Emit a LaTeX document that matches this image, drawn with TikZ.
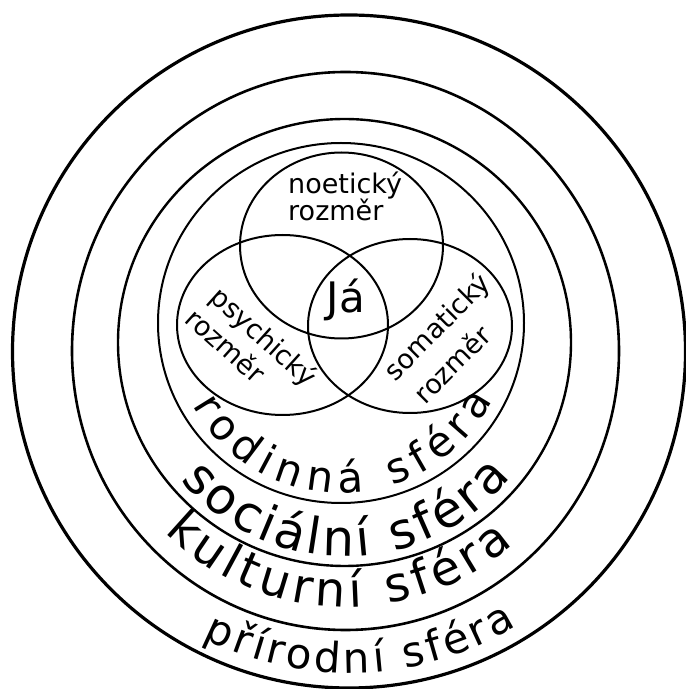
\documentclass[tikz,border=0pt]{standalone}
\usepackage{fontspec}
\setmainfont{DejaVu Sans}
\usetikzlibrary{decorations.text}
\begin{document}
\begin{tikzpicture}[x=1pt,y=1pt,
  venn/.style={draw=black, line width=2pt},
  lbl/.style={font=\fontsize{27}{28}\selectfont, inner sep=0pt},
  arctext/.style 2 args={decorate, decoration={text along path, text align={fit to path}, text={|\fontsize{#1}{#1}\selectfont|#2}}}
]
\useasboundingbox (0,0) rectangle (686,689);
% spheres
\draw[line width=3.2pt] (349,337.5) circle[radius=336.5];
\draw[line width=2.6pt] (345.5,338) ellipse[x radius=273.5, y radius=279];
\draw[line width=2.4pt] (344.5,346.5) ellipse[x radius=226.5, y radius=223.5];
\draw[line width=2pt] (341,366) ellipse[x radius=183, y radius=180];
% venn
\draw[venn] (341.5,443.5) ellipse[x radius=101.5, y radius=93];
\draw[venn] (282.5,364) ellipse[x radius=105.5, y radius=90];
\draw[venn] (410,363) ellipse[x radius=102, y radius=87];
% labels
\node[lbl, anchor=base west] (noe1) at (288,495) {noetický};
\node[lbl, anchor=base west] (noe2) at (288,468.5) {rozměr};
\node[font=\fontsize{42}{42}\selectfont, anchor=base, inner sep=0pt] (ja) at (346,376) {Já};
\node[lbl, rotate=-42] (psy1) at (263,351) {psychický};
\node[lbl, rotate=-42] (psy2) at (226,344) {rozměr};
\node[lbl, rotate=45] (som1) at (438,361) {somatický};
\node[lbl, rotate=45] (som2) at (452,325) {rozměr};
% curved labels
\path[arctext={42}{rodinná sféra}] (341,366) ++(209:170) arc[start angle=209, end angle=333, radius=170];
\path[arctext={50}{sociální sféra}] (344.5,346.5) ++(220:214) arc[start angle=220, end angle=321, radius=214];
\path[arctext={48}{kulturní sféra}] (345.5,338) ++(225:256) arc[start angle=225, end angle=311, radius=256];
\path[arctext={42}{přírodní sféra}] (349,337.5) ++(243:321.5) arc[start angle=243, end angle=301.5, radius=321.5];
\end{tikzpicture}
\end{document}
